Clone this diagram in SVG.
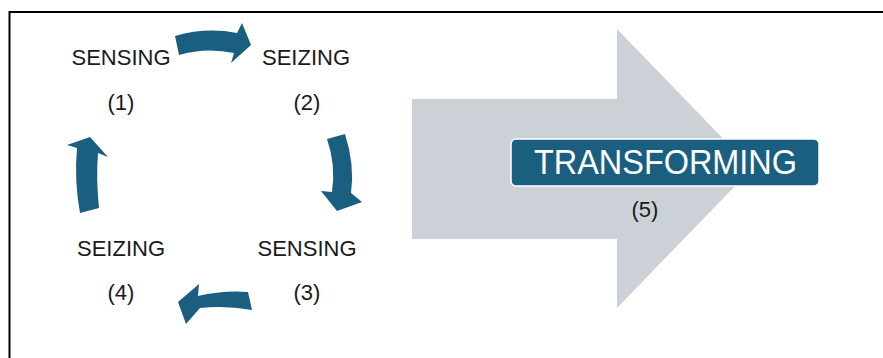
<svg xmlns="http://www.w3.org/2000/svg" width="883" height="358" viewBox="0 0 883 358">
  <style>
    .lbl { font-family: "Liberation Sans", Arial, sans-serif; font-size: 22px; fill: #1a1a1a; text-anchor: middle; }
    .cyc { fill: #1a5f80; }
  </style>
  <rect x="0" y="0" width="883" height="358" fill="#ffffff"/>
  <!-- frame (open on the right and bottom) -->
  <rect x="9.5" y="12" width="900" height="400" fill="none" stroke="#000000" stroke-width="2"/>

  <!-- cycle connectors -->
  <g id="connectors">
    <path class="cyc" d="M179,55 L175,36 Q206,27 237,33 L242,23 L251,45 L231,63 L234,53 Q206,47 179,55 Z"/>
    <path class="cyc" d="M327,139 L345,134 Q355,165 351,193 L362,202 L337,211 L321,191 L332,192 Q336,165 327,139 Z"/>
    <path class="cyc" d="M248,292 L252,310 Q225,305 200,308 L186,324 L178,302 L199,284 L198,296 Q223,290 248,292 Z"/>
    <path class="cyc" d="M80,213 Q74,180 77,148 L67,145 L90,137 L108,157 L98,153 Q96,180 99,208 Z"/>
  </g>

  <g id="sensing1">
    <text class="lbl" x="121" y="65">SENSING</text>
    <text class="lbl" x="121" y="110">(1)</text>
  </g>
  <g id="seizing2">
    <text class="lbl" x="306" y="65">SEIZING</text>
    <text class="lbl" x="307" y="110">(2)</text>
  </g>
  <g id="sensing3">
    <text class="lbl" x="307" y="256">SENSING</text>
    <text class="lbl" x="307" y="300">(3)</text>
  </g>
  <g id="seizing4">
    <text class="lbl" x="121" y="256">SEIZING</text>
    <text class="lbl" x="121" y="300">(4)</text>
  </g>

  <g id="transforming">
    <polygon points="412,99 617,99 617,29 752,168.5 617,308 617,239 412,239" fill="#ccd1d8"/>
    <rect x="511" y="139" width="308" height="47" rx="5" ry="5" fill="#1a5f80" stroke="#ffffff" stroke-width="1.5"/>
    <text x="665.5" y="174" font-family="'Liberation Sans', Arial, sans-serif" font-size="35" fill="#ffffff" text-anchor="middle" textLength="263" lengthAdjust="spacingAndGlyphs">TRANSFORMING</text>
    <text class="lbl" x="645" y="217">(5)</text>
  </g>
</svg>
